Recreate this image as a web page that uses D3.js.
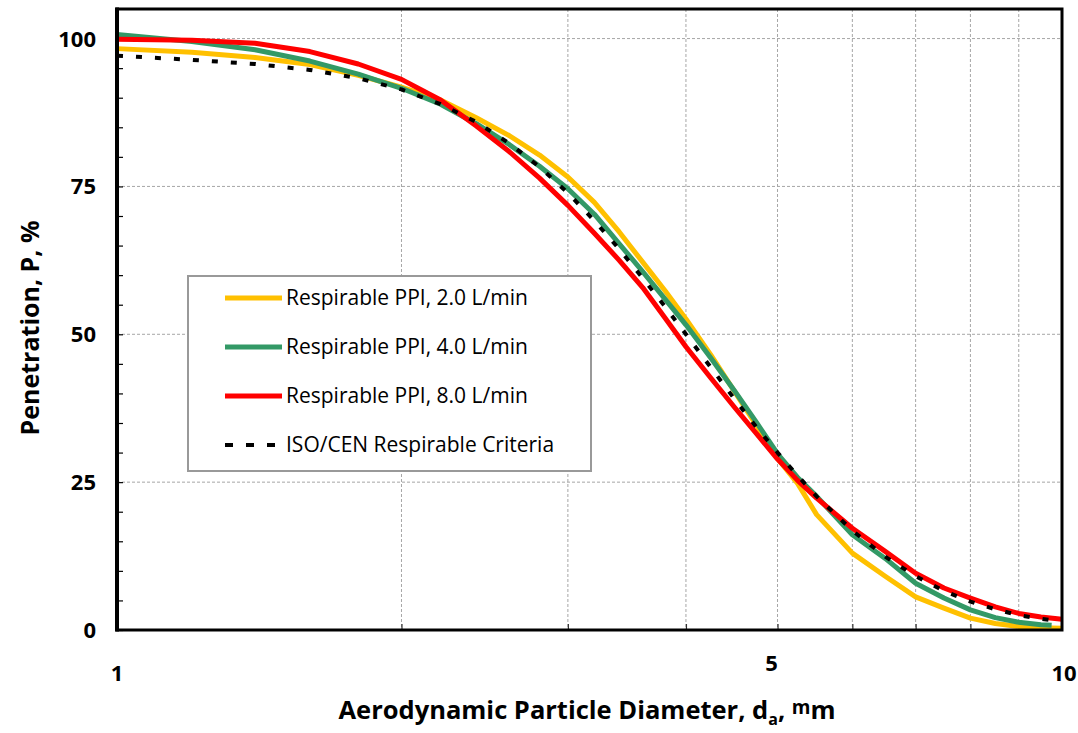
<!DOCTYPE html>
<html>
<head>
<meta charset="utf-8">
<script src="https://cdn.jsdelivr.net/npm/d3@7"></script>
<style>
  body { margin: 0; background: #fff; }
  svg { font-family: "Open Sans", "DejaVu Sans", sans-serif; }
</style>
</head>
<body>
<svg id="chart" width="1078" height="733"></svg>
<script>
// particle diameter, um
var diameters = [1, 1.2, 1.4, 1.6, 1.8, 2, 2.2, 2.4, 2.6, 2.8, 3, 3.2, 3.4, 3.6, 3.8, 4,
                 4.25, 4.5, 4.75, 5, 5.25, 5.5, 6, 6.5, 7, 7.5, 8, 8.5, 9, 9.5, 10];
var diametersGreen = [1, 1.2, 1.4, 1.6, 1.8, 2, 2.2, 2.4, 2.6, 2.8, 3, 3.2, 3.4, 3.6, 3.8, 4,
                 4.25, 4.5, 4.75, 5, 5.25, 5.5, 6, 6.5, 7, 7.5, 8, 8.5, 9, 9.5, 9.75];

// penetration, %
var ppi2 = [98.3, 97.7, 96.8, 95.6, 93.8, 91.8, 89.6, 86.6, 83.6, 80.3, 76.6, 72.3, 67.3, 62.2, 57.4, 52.6,
            46.5, 40.4, 34.6, 29.0, 24.8, 19.5, 13.0, 9.1, 5.6, 3.7, 2.0, 1.1, 0.6, 0.4, 0.3];
var ppi4 = [100.7, 99.5, 98.1, 96.2, 94.0, 91.6, 88.9, 85.6, 82.1, 78.4, 74.6, 70.3, 65.3, 60.6, 56.0, 51.6,
            46.0, 40.5, 35.1, 29.8, 25.8, 22.6, 16.1, 12.1, 7.9, 5.4, 3.4, 2.1, 1.3, 0.9, 0.8];
var ppi8 = [99.9, 99.7, 99.2, 97.8, 95.7, 93.1, 89.6, 85.2, 80.9, 76.4, 71.8, 67.1, 62.5, 57.9, 52.8, 47.9,
            42.6, 37.7, 33.2, 28.9, 25.3, 22.3, 17.2, 13.3, 9.6, 7.1, 5.4, 3.9, 2.8, 2.2, 1.8];
var isoCen = [97.1, 96.4, 95.7, 94.7, 93.3, 91.4, 88.9, 85.9, 82.3, 78.3, 73.9, 69.2, 64.4, 59.5, 54.7, 50.0,
              44.4, 39.1, 34.3, 30.0, 26.1, 22.6, 16.8, 12.4, 9.1, 6.6, 4.8, 3.5, 2.5, 1.9, 1.4];

var seriesNames = ["Respirable PPI, 2.0 L/min", "Respirable PPI, 4.0 L/min",
                   "Respirable PPI, 8.0 L/min", "ISO/CEN Respirable Criteria"];
var yTickLabels = [0, 25, 50, 75, 100];
var xTickLabels = [1, 5, 10];
var xGrid = [2, 3, 4, 5, 6, 7, 8, 9];

var svg = d3.select("#chart");
var pLeft = 117, pRight = 1062, pTop = 9, pBottom = 630;

var x = d3.scaleLog().domain([1, 10]).range([pLeft, pRight]);
var y = d3.scaleLinear().domain([0, 105]).range([pBottom, pTop]);

// grid
svg.append("g").selectAll("line").data(xGrid).enter().append("line")
  .attr("x1", d => x(d)).attr("x2", d => x(d))
  .attr("y1", pTop).attr("y2", pBottom)
  .attr("stroke", "#a6a6a6").attr("stroke-width", 1).attr("stroke-dasharray", "3,2");
svg.append("g").selectAll("line").data(yTickLabels.filter(d => d > 0)).enter().append("line")
  .attr("x1", pLeft).attr("x2", pRight)
  .attr("y1", d => y(d)).attr("y2", d => y(d))
  .attr("stroke", "#a6a6a6").attr("stroke-width", 1).attr("stroke-dasharray", "3,2");

// minor ticks on the y axis, every 5
var yAx = svg.append("g").attr("transform", "translate(" + pLeft + ",0)")
  .call(d3.axisLeft(y).tickValues(d3.range(0, 105, 5)).tickSize(-6).tickFormat(""));
yAx.select(".domain").remove();
yAx.selectAll("line").attr("stroke", "#000").attr("stroke-width", 1.2);

// ticks on the x axis
var xAx = svg.append("g").attr("transform", "translate(0," + pBottom + ")")
  .call(d3.axisBottom(x).tickValues(xGrid).tickSize(-6).tickFormat(""));
xAx.select(".domain").remove();
xAx.selectAll("line").attr("stroke", "#333").attr("stroke-width", 1.2);

// lines
var line = function (xs) {
  return d3.line().x((d, i) => x(xs[i])).y(d => y(d));
};
var styles = [
  { data: ppi2, xs: diameters, color: "#ffc000", width: 5, dash: null },
  { data: ppi4, xs: diametersGreen, color: "#339966", width: 5, dash: null },
  { data: ppi8, xs: diameters, color: "#ff0000", width: 5, dash: null },
  { data: isoCen, xs: diameters, color: "#000000", width: 4, dash: "6,13" }
];
styles.forEach(function (s) {
  svg.append("path")
    .attr("d", line(s.xs)(s.data))
    .attr("fill", "none")
    .attr("stroke", s.color)
    .attr("stroke-width", s.width)
    .attr("stroke-linejoin", "round")
    .attr("stroke-dasharray", s.dash);
});

// frame
svg.append("rect").attr("x", pLeft).attr("y", pTop)
  .attr("width", pRight - pLeft).attr("height", pBottom - pTop)
  .attr("fill", "none").attr("stroke", "#000").attr("stroke-width", 3);
svg.append("line").attr("x1", pLeft).attr("x2", pLeft).attr("y1", pTop - 1.5).attr("y2", pBottom + 1.5)
  .attr("stroke", "#000").attr("stroke-width", 4);

// y tick labels
svg.append("g").selectAll("text").data(yTickLabels).enter().append("text")
  .attr("x", 96).attr("y", d => y(d) + 8)
  .attr("text-anchor", "end")
  .attr("font-size", 22).attr("font-weight", "bold")
  .text(d => d);

// x tick labels ("5" sits a little higher in the original)
svg.append("g").selectAll("text").data(xTickLabels).enter().append("text")
  .attr("x", d => d === 5 ? x(d) - 6 : (d === 10 ? x(d) + 2 : x(d)))
  .attr("y", d => d === 5 ? 671 : 681)
  .attr("text-anchor", "middle")
  .attr("font-size", 22).attr("font-weight", "bold")
  .text(d => d);

// axis titles
var xt = svg.append("text").attr("x", 587).attr("y", 719)
  .attr("text-anchor", "middle").attr("font-size", 25.5).attr("font-weight", "bold");
xt.append("tspan").text("Aerodynamic Particle Diameter, d");
xt.append("tspan").attr("font-size", 16).attr("dy", 6).text("a");
xt.append("tspan").attr("dy", -6).text(", ");
xt.append("tspan").attr("font-size", 19).attr("dy", -5).text("m");
xt.append("tspan").attr("dy", 5).text("m");

svg.append("text")
  .attr("transform", "translate(39,328) rotate(-90)")
  .attr("text-anchor", "middle").attr("font-size", 25).attr("font-weight", "bold")
  .text("Penetration, P, %");

// legend
var lg = svg.append("g");
lg.append("rect").attr("x", 188).attr("y", 276).attr("width", 403).attr("height", 195)
  .attr("fill", "#fff").attr("stroke", "#999").attr("stroke-width", 2);
styles.forEach(function (s, i) {
  var yy = 298 + i * 49;
  lg.append("line").attr("x1", 225).attr("x2", 282).attr("y1", yy).attr("y2", yy)
    .attr("stroke", s.color).attr("stroke-width", s.dash ? 4 : 5)
    .attr("stroke-dasharray", s.dash ? "8,13" : null);
  lg.append("text").attr("x", 286).attr("y", yy + 7)
    .attr("font-size", 21).text(seriesNames[i]);
});
</script>
</body>
</html>
